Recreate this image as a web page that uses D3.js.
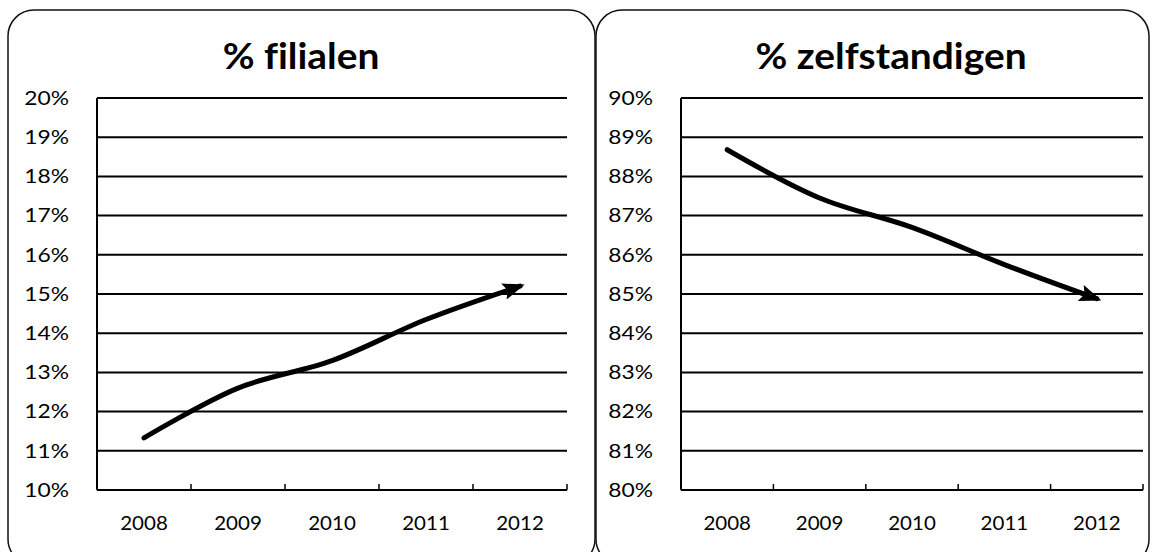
<!DOCTYPE html>
<html>
<head>
<meta charset="utf-8">
<script src="https://cdn.jsdelivr.net/npm/d3@7"></script>
<style>
  body { margin: 0; background: #fff; }
  text { font-family: Lato, "Open Sans", sans-serif; fill: #000; font-variant-ligatures: none; }
</style>
</head>
<body>
<div id="chart"></div>
<script>
// data
const years = ["2008", "2009", "2010", "2011", "2012"];
const filialen = [11.33, 12.6, 13.3, 14.35, 15.2];
const zelfstandigen = [88.68, 87.45, 86.7, 85.75, 84.88];
const ticksFilialen = [10, 11, 12, 13, 14, 15, 16, 17, 18, 19, 20];
const ticksZelf = [80, 81, 82, 83, 84, 85, 86, 87, 88, 89, 90];

const dimensions = { width: 1152, height: 552, plotTop: 98, plotBottom: 490 };

const svg = d3.select("#chart")
    .append("svg")
    .attr("width", dimensions.width)
    .attr("height", dimensions.height);

// arrow head, sized in user units
svg.append("defs").append("marker")
    .attr("id", "arrow")
    .attr("viewBox", "0 0 22 17")
    .attr("refX", 17)
    .attr("refY", 8.5)
    .attr("markerWidth", 22)
    .attr("markerHeight", 17)
    .attr("markerUnits", "userSpaceOnUse")
    .attr("orient", "auto")
    .append("path")
    .attr("d", "M0,0 L22,8.5 L0,17 L4,8.5 Z")
    .attr("fill", "#000");

const panels = [
    { title: "% filialen", values: filialen, ticks: ticksFilialen,
      box: [8, 10, 595, 565], plot: [97, 567], titleX: 301 },
    { title: "% zelfstandigen", values: zelfstandigen, ticks: ticksZelf,
      box: [596, 10, 1149, 565], plot: [681, 1143], titleX: 891 }
];

const plotTop = dimensions.plotTop, plotBottom = dimensions.plotBottom;

panels.forEach(p => {
    const g = svg.append("g");

    // rounded frame
    g.append("rect")
        .attr("x", p.box[0])
        .attr("y", p.box[1])
        .attr("width", p.box[2] - p.box[0])
        .attr("height", p.box[3] - p.box[1])
        .attr("rx", 26)
        .attr("fill", "none")
        .attr("stroke", "#111")
        .attr("stroke-width", 1.5);

    g.append("text")
        .attr("transform", `translate(${p.titleX},69) scale(1.08,1)`)
        .attr("text-anchor", "middle")
        .style("font-size", "36px")
        .style("font-weight", "bold")
        .text(p.title);

    const x = d3.scaleBand()
        .domain(years)
        .range(p.plot);

    const y = d3.scaleLinear()
        .domain([p.ticks[0], p.ticks[p.ticks.length - 1]])
        .range([plotBottom, plotTop]);

    // gridlines
    g.selectAll("line.grid")
        .data(p.ticks.slice(1))
        .join("line")
        .attr("class", "grid")
        .attr("x1", p.plot[0])
        .attr("x2", p.plot[1])
        .attr("y1", d => y(d))
        .attr("y2", d => y(d))
        .attr("stroke", "#000")
        .attr("stroke-width", 2);

    // y labels
    g.selectAll("text.ylab")
        .data(p.ticks)
        .join("text")
        .attr("class", "ylab")
        .attr("transform", d => `translate(${p.plot[0] - 28},${y(d)}) scale(1.2,1)`)
        .attr("dy", "0.36em")
        .attr("text-anchor", "end")
        .style("font-size", "19px")
        .text(d => d + "%");

    // x axis
    const xAxis = d3.axisBottom(x).tickSize(0).tickPadding(27);
    const ax = g.append("g")
        .attr("transform", `translate(0,${plotBottom})`)
        .call(xAxis);
    ax.select(".domain").remove();
    ax.selectAll("text")
        .attr("transform", "scale(1.08,1)")
        .style("font-size", "19px")
        .style("font-family", "Lato, sans-serif")
        .attr("fill", "#000");

    g.append("line")
        .attr("x1", p.plot[0]).attr("x2", p.plot[1])
        .attr("y1", plotBottom).attr("y2", plotBottom)
        .attr("stroke", "#000").attr("stroke-width", 2);
    g.append("line")
        .attr("x1", p.plot[0]).attr("x2", p.plot[0])
        .attr("y1", plotTop).attr("y2", plotBottom)
        .attr("stroke", "#000").attr("stroke-width", 2);

    // tick marks between categories
    g.selectAll("line.tick")
        .data(years)
        .join("line")
        .attr("class", "tick")
        .attr("x1", d => x(d) + x.bandwidth())
        .attr("x2", d => x(d) + x.bandwidth())
        .attr("y1", plotBottom)
        .attr("y2", plotBottom - 6)
        .attr("stroke", "#000")
        .attr("stroke-width", 1.5);

    const line = d3.line()
        .x((d, i) => x(years[i]) + x.bandwidth() / 2)
        .y(d => y(d))
        .curve(d3.curveCatmullRom.alpha(0.5));

    g.append("path")
        .datum(p.values)
        .attr("d", line)
        .attr("fill", "none")
        .attr("stroke", "#000")
        .attr("stroke-width", 5)
        .attr("stroke-linecap", "round")
        .attr("marker-end", "url(#arrow)");
});
</script>
</body>
</html>
